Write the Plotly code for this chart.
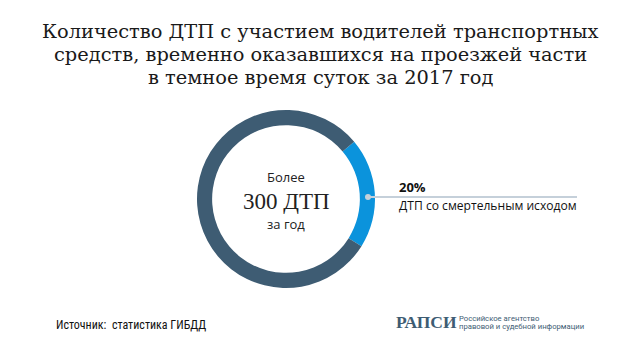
import plotly.graph_objects as go

labels = ["ДТП со смертельным исходом", "Прочие ДТП"]
values = [20, 80]
colors = ["#0b93dc", "#3e5c73"]
title_lines = [
    "Количество ДТП с участием водителей транспортных",
    "средств, временно оказавшихся на проезжей части",
    "в темное время суток за 2017 год",
]
center_top = "Более"
center_main = "300 ДТП"
center_bottom = "за год"
callout_pct = "20%"
callout_text = "ДТП со смертельным исходом"
source = "Источник:  статистика ГИБДД"
logo_main = "РАПСИ"
logo_sub = ["Российское агентство", "правовой и судебной информации"]

W, H = 640, 360
cx, cy, R = 286, 199, 89

def px(x):
    return x / W

def py(y):
    return 1 - y / H

fig = go.Figure()
fig.add_trace(go.Pie(
    labels=labels, values=values, hole=0.83, sort=False,
    direction="clockwise", rotation=50,
    marker=dict(colors=colors, line=dict(width=0)),
    textinfo="none", hoverinfo="label+percent", showlegend=False,
    domain=dict(x=[px(cx - R), px(cx + R)], y=[py(cy + R), py(cy - R)]),
))

ann = []
for i, line in enumerate(title_lines):
    ann.append(dict(text=line, x=0.5, y=py(31 + 23.3 * i), xref="paper", yref="paper",
                    xanchor="center", yanchor="middle", showarrow=False,
                    font=dict(family="DejaVu Serif", size=19.4, color="#1a1a1a")))
ann.append(dict(text=center_top, x=px(cx), y=py(177), xref="paper", yref="paper",
                yanchor="middle", showarrow=False, font=dict(family="Open Sans", size=13, color="#222")))
ann.append(dict(text=center_main, x=px(cx), y=py(201), xref="paper", yref="paper",
                yanchor="middle", showarrow=False, font=dict(family="Liberation Serif", size=23, color="#222")))
ann.append(dict(text=center_bottom, x=px(cx), y=py(224), xref="paper", yref="paper",
                yanchor="middle", showarrow=False, font=dict(family="Open Sans", size=13, color="#222")))
ann.append(dict(text="<b>" + callout_pct + "</b>", x=px(397), y=py(187), xref="paper", yref="paper",
                xanchor="left", yanchor="middle", showarrow=False,
                font=dict(family="Open Sans", size=13, color="#111")))
ann.append(dict(text=callout_text, x=px(397), y=py(205), xref="paper", yref="paper",
                xanchor="left", yanchor="middle", showarrow=False,
                font=dict(family="Open Sans", size=12.1, color="#111")))
ann.append(dict(text=source, x=px(54), y=py(325), xref="paper", yref="paper",
                xanchor="left", yanchor="middle", showarrow=False,
                font=dict(family="Liberation Sans Narrow, Roboto Condensed, Roboto", size=12, color="#111")))
ann.append(dict(text="<b>" + logo_main + "</b>", x=px(394), y=py(322), xref="paper", yref="paper",
                xanchor="left", yanchor="middle", showarrow=False,
                font=dict(family="Liberation Serif", size=17.5, color="#3e5c73")))
for i, line in enumerate(logo_sub):
    ann.append(dict(text=line, x=px(457), y=py(318 + 8.5 * i), xref="paper", yref="paper",
                    xanchor="left", yanchor="middle", showarrow=False,
                    font=dict(family="Roboto", size=7.7, color="#3e5c73")))

shapes = [
    dict(type="line", xref="paper", yref="paper", x0=px(368), x1=px(577), y0=py(197), y1=py(197),
         line=dict(color="#c5d0da", width=2)),
    dict(type="circle", xref="paper", yref="paper", x0=px(365), x1=px(371), y0=py(200), y1=py(194),
         fillcolor="#c5d0da", line=dict(width=0)),
]

fig.update_layout(width=W, height=H, margin=dict(l=0, r=0, t=0, b=0),
                  paper_bgcolor="white", plot_bgcolor="white",
                  annotations=ann, shapes=shapes)
fig.write_html("out.html", config={"displayModeBar": False},
               post_script="document.body.style.margin='0';")
